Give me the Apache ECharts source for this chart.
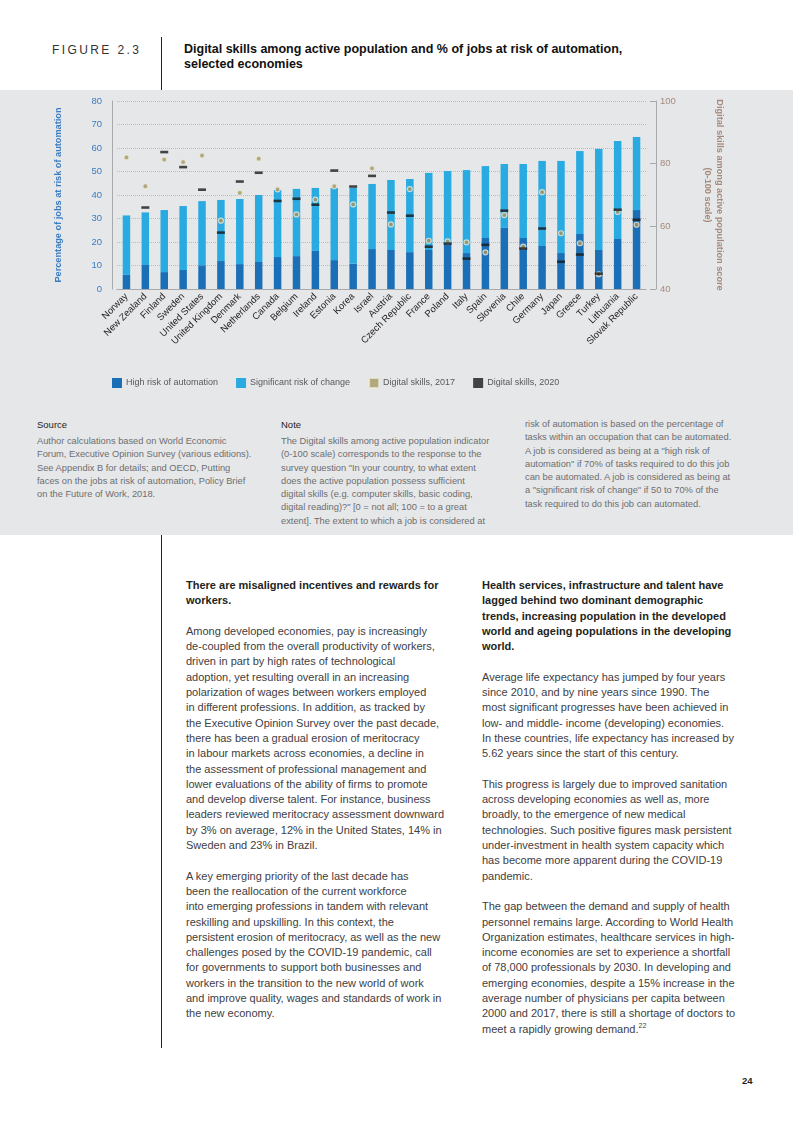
<!DOCTYPE html>
<html>
<head>
<meta charset="utf-8">
<script src="https://cdn.jsdelivr.net/npm/echarts@6/dist/echarts.min.js"></script>
<style>
  html, body { margin:0; padding:0; background:#fff; }
  body { width:793px; height:1122px; position:relative; overflow:hidden; font-family:"Liberation Sans", Arial, Helvetica, sans-serif; }
  .abs { position:absolute; white-space:nowrap; }
  #band { position:absolute; left:0; top:90px; width:793px; height:445px; background:#e6e7e8; }
  #chart { position:absolute; left:0; top:90px; width:793px; height:310px; }
  .vline { position:absolute; left:161px; width:1px; background:#231f20; }
  .fig { left:52px; top:42px; font-size:12px; letter-spacing:2.4px; color:#333; line-height:16px; }
  .title { left:184px; top:42px; font-size:12.5px; font-weight:bold; color:#111; line-height:15px; font-family:"Liberation Sans Narrow","Liberation Sans",Arial,sans-serif; font-stretch:condensed; }
  .fn { font-size:9.3px; line-height:13.3px; color:#6d6e71; }
  .fnh { font-size:9.5px; color:#231f20; line-height:13.3px; }
  .body { font-size:11px; line-height:15.3px; color:#414042; }
  .body b { color:#231f20; }
</style>
</head>
<body>
<div id="band"></div>
<div class="vline" style="top:37px;height:53px;"></div>
<div class="vline" style="top:535px;height:513px;"></div>
<div class="abs fig">FIGURE 2.3</div>
<div class="abs title">Digital skills among active population and % of jobs at risk of automation,<br>selected economies</div>
<div id="chart"></div>

<div class="abs fnh" style="left:37px;top:418px;">Source</div>
<div class="abs fn" style="left:37px;top:435px;">Author calculations based on World Economic<br>Forum, Executive Opinion Survey (various editions).<br>See Appendix B for details; and OECD, Putting<br>faces on the jobs at risk of automation, Policy Brief<br>on the Future of Work, 2018.</div>
<div class="abs fnh" style="left:281px;top:418px;">Note</div>
<div class="abs fn" style="left:281px;top:435px;">The Digital skills among active population indicator<br>(0-100 scale) corresponds to the response to the<br>survey question "In your country, to what extent<br>does the active population possess sufficient<br>digital skills (e.g. computer skills, basic coding,<br>digital reading)?" [0 = not all; 100 = to a great<br>extent]. The extent to which a job is considered at</div>
<div class="abs fn" style="left:525px;top:418px;">risk of automation is based on the percentage of<br>tasks within an occupation that can be automated.<br>A job is considered as being at a "high risk of<br>automation" if 70% of tasks required to do this job<br>can be automated. A job is considered as being at<br>a "significant risk of change" if 50 to 70% of the<br>task required to do this job can automated.</div>

<div class="abs body" style="left:186px;top:578px;"><b>There are misaligned incentives and rewards for<br>workers.</b><br><br>Among developed economies, pay is increasingly<br>de-coupled from the overall productivity of workers,<br>driven in part by high rates of technological<br>adoption, yet resulting overall in an increasing<br>polarization of wages between workers employed<br>in different professions. In addition, as tracked by<br>the Executive Opinion Survey over the past decade,<br>there has been a gradual erosion of meritocracy<br>in labour markets across economies, a decline in<br>the assessment of professional management and<br>lower evaluations of the ability of firms to promote<br>and develop diverse talent. For instance, business<br>leaders reviewed meritocracy assessment downward<br>by 3% on average, 12% in the United States, 14% in<br>Sweden and 23% in Brazil.<br><br>A key emerging priority of the last decade has<br>been the reallocation of the current workforce<br>into emerging professions in tandem with relevant<br>reskilling and upskilling. In this context, the<br>persistent erosion of meritocracy, as well as the new<br>challenges posed by the COVID-19 pandemic, call<br>for governments to support both businesses and<br>workers in the transition to the new world of work<br>and improve quality, wages and standards of work in<br>the new economy.</div>

<div class="abs body" style="left:482px;top:578px;"><b>Health services, infrastructure and talent have<br>lagged behind two dominant demographic<br>trends, increasing population in the developed<br>world and ageing populations in the developing<br>world.</b><br><br>Average life expectancy has jumped by four years<br>since 2010, and by nine years since 1990. The<br>most significant progresses have been achieved in<br>low- and middle- income (developing) economies.<br>In these countries, life expectancy has increased by<br>5.62 years since the start of this century.<br><br>This progress is largely due to improved sanitation<br>across developing economies as well as, more<br>broadly, to the emergence of new medical<br>technologies. Such positive figures mask persistent<br>under-investment in health system capacity which<br>has become more apparent during the COVID-19<br>pandemic.<br><br>The gap between the demand and supply of health<br>personnel remains large. According to World Health<br>Organization estimates, healthcare services in high-<br>income economies are set to experience a shortfall<br>of 78,000 professionals by 2030. In developing and<br>emerging economies, despite a 15% increase in the<br>average number of physicians per capita between<br>2000 and 2017, there is still a shortage of doctors to<br>meet a rapidly growing demand.<sup style="font-size:7px;line-height:0;">22</sup></div>

<div class="abs" style="left:742px;top:1075px;font-size:9.5px;font-weight:bold;color:#231f20;">24</div>

<script>
// ---- Data ----
var countries = ["Norway","New Zealand","Finland","Sweden","United States","United Kingdom","Denmark","Netherlands","Canada","Belgium","Ireland","Estonia","Korea","Israel","Austria","Czech Republic","France","Poland","Italy","Spain","Slovenia","Chile","Germany","Japan","Greece","Turkey","Lithuania","Slovak Republic"];
var highRisk = [6.0,10.2,7.2,8.1,10.1,11.9,10.6,11.5,13.6,14.0,16.2,12.3,10.8,17.0,16.6,15.7,16.6,19.1,15.3,21.7,26.0,21.7,18.3,15.3,23.4,16.6,21.3,33.6];
var significantRisk = [25.3,22.4,26.4,27.2,27.3,26.0,27.7,28.5,28.5,28.6,26.8,30.7,32.2,27.7,29.8,31.1,32.8,31.1,35.3,30.6,27.2,31.5,36.2,39.2,35.3,43.0,41.7,31.1];
var skills2017 = [82.0,72.8,81.3,80.5,82.6,61.8,70.7,81.6,71.8,63.8,68.5,72.8,67.0,78.5,60.6,71.9,55.4,55.2,54.9,51.7,63.6,53.5,70.9,57.8,54.6,44.7,64.6,60.5];
var skills2020 = [null,66.0,83.7,78.9,71.7,58.0,74.3,77.1,68.1,68.8,66.9,77.8,72.7,76.1,64.4,63.4,53.5,54.5,49.7,54.1,65.0,52.9,59.3,48.7,51.0,44.9,65.3,62.1];
var leftTicks = {min:0, max:80, interval:10};
var rightTicks = {min:40, max:100, interval:20};
var seriesNames = ["High risk of automation","Significant risk of change","Digital skills, 2017","Digital skills, 2020"];
var colors = ["#1b6fb6","#29abe2","#a49860","#1a1a1a"];

var chart = echarts.init(document.getElementById('chart'), null, {renderer:'canvas'});
var font = '"Liberation Sans", Arial, sans-serif';
chart.setOption({
  animation:false,
  textStyle:{fontFamily:font},
  grid:{left:117, right:147, top:11, height:188, containLabel:false},
  legend:{
    data:seriesNames.map(function(n){return {name:n, icon:'rect'};}),
    left:107, top:282, itemWidth:10, itemHeight:10, itemGap:18,
    textStyle:{fontSize:9, color:'#58595b', padding:[0,0,0,-1]}
  },
  xAxis:{
    type:'category', data:countries,
    axisLine:{show:true, lineStyle:{color:'#a7a9ac', width:1}},
    axisTick:{show:false},
    axisLabel:{rotate:45, fontSize:9.5, color:'#231f20', margin:6, interval:0}
  },
  yAxis:[{
    type:'value', min:leftTicks.min, max:leftTicks.max, interval:leftTicks.interval, offset:5,
    name:'Percentage of jobs at risk of automation', nameLocation:'middle', nameGap:49,
    nameTextStyle:{color:'#3a7cc2', fontSize:9.2, fontWeight:'bold'},
    axisLine:{show:true, lineStyle:{color:'#a7a9ac'}},
    axisTick:{show:false},
    axisLabel:{color:'#3a7cc2', fontSize:9.5, margin:10},
    splitLine:{show:true, lineStyle:{color:'#b9bbbd', type:'dotted', width:1}}
  },{
    type:'value', min:rightTicks.min, max:rightTicks.max, interval:rightTicks.interval, offset:10, position:'right',
    name:'Digital skills among active population score\n(0-100 scale)', nameLocation:'middle', nameGap:46, nameRotate:-90,
    nameTextStyle:{color:'#a58a7c', fontSize:9.2, fontWeight:'bold', lineHeight:12, align:'center'},
    axisLine:{show:true, lineStyle:{color:'#a7a9ac'}},
    axisTick:{show:true, inside:true, length:6, lineStyle:{color:'#a7a9ac'}},
    axisLabel:{color:'#a58a7c', fontSize:9.5, margin:4},
    splitLine:{show:false}
  }],
  series:[
    {name:seriesNames[0], type:'bar', stack:'risk', data:highRisk, barWidth:7.5, itemStyle:{color:colors[0]}},
    {name:seriesNames[1], type:'bar', stack:'risk', data:significantRisk, barWidth:7.5, itemStyle:{color:colors[1]}},
    {name:seriesNames[2], type:'scatter', yAxisIndex:1, data:skills2017, symbol:'circle', symbolSize:5, z:5,
      itemStyle:{color:colors[2], borderColor:'#ebe9dd', borderWidth:1.2}},
    {name:seriesNames[3], type:'scatter', yAxisIndex:1, data:skills2020, symbol:'rect', symbolSize:[8,2.6], z:6,
      itemStyle:{color:colors[3]}}
  ]
});
</script>
</body>
</html>
